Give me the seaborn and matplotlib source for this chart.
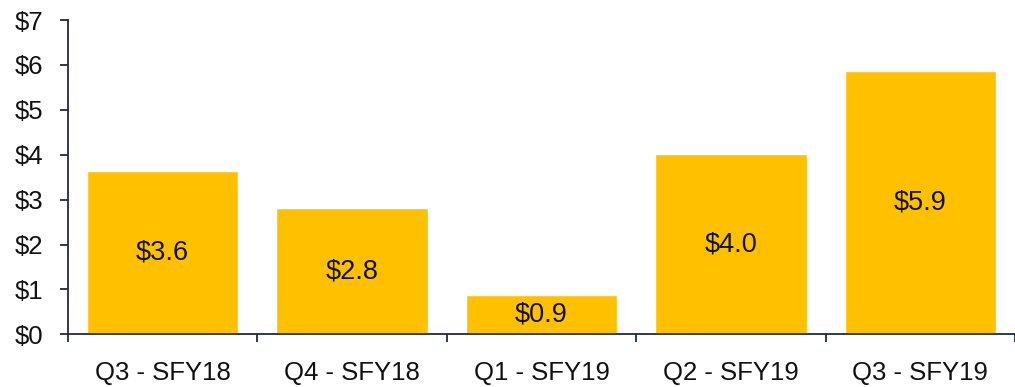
import matplotlib
matplotlib.use("Agg")
import matplotlib.pyplot as plt
import seaborn as sns
import pandas as pd
import numpy as np

# Quarterly values (in $)
quarters = ["Q3 - SFY18", "Q4 - SFY18", "Q1 - SFY19", "Q2 - SFY19", "Q3 - SFY19"]
values = [3.64, 2.81, 0.87, 4.02, 5.87]
y_ticks = [0, 1, 2, 3, 4, 5, 6, 7]
y_tick_labels = ["$0", "$1", "$2", "$3", "$4", "$5", "$6", "$7"]

sns.set_style("white")
plt.rcParams["font.family"] = ["Liberation Sans", "DejaVu Sans"]

bar_color = "#FFC000"
axis_color = "#1F2A44"
text_color = "#111111"

df = pd.DataFrame({"quarter": quarters, "value": values})

fig = plt.figure(figsize=(10.15, 3.87), dpi=100)
W, H = 1015, 387
ax = fig.add_axes([68 / W, 1 - 334.3 / H, (1015 - 68) / W, (334.3 - 20) / H])

sns.barplot(data=df, x="quarter", y="value", color=bar_color, width=0.8,
            saturation=1, ax=ax)

# Labels centred inside each bar
for i, v in enumerate(values):
    ax.text(i, v / 2, f"${v:.1f}", ha="center", va="center",
            fontsize=19.5, color=text_color)

ax.set_ylim(0, 7)
ax.set_xlim(-0.5, 4.5 - 8 / 191)
ax.set_yticks(y_ticks)
ax.set_yticklabels(y_tick_labels)
ax.set_xlabel("")
ax.set_ylabel("")

# Category separators as x ticks
ax.set_xticks(np.arange(-0.5, 5.0, 1.0), minor=True)
ax.tick_params(axis="x", which="major", bottom=True, length=0, pad=19,
               labelsize=18.5, labelcolor=text_color)
ax.tick_params(axis="x", which="minor", bottom=True, length=6, width=1.3,
               color=axis_color, direction="out")
ax.tick_params(axis="y", left=True, length=6, width=1.3, color=axis_color,
               pad=12, labelsize=18.5, labelcolor=text_color, direction="out")

for side in ["top", "right"]:
    ax.spines[side].set_visible(False)
for side in ["left", "bottom"]:
    ax.spines[side].set_color(axis_color)
    ax.spines[side].set_linewidth(1.3)

fig.savefig("out.png", dpi=100)
